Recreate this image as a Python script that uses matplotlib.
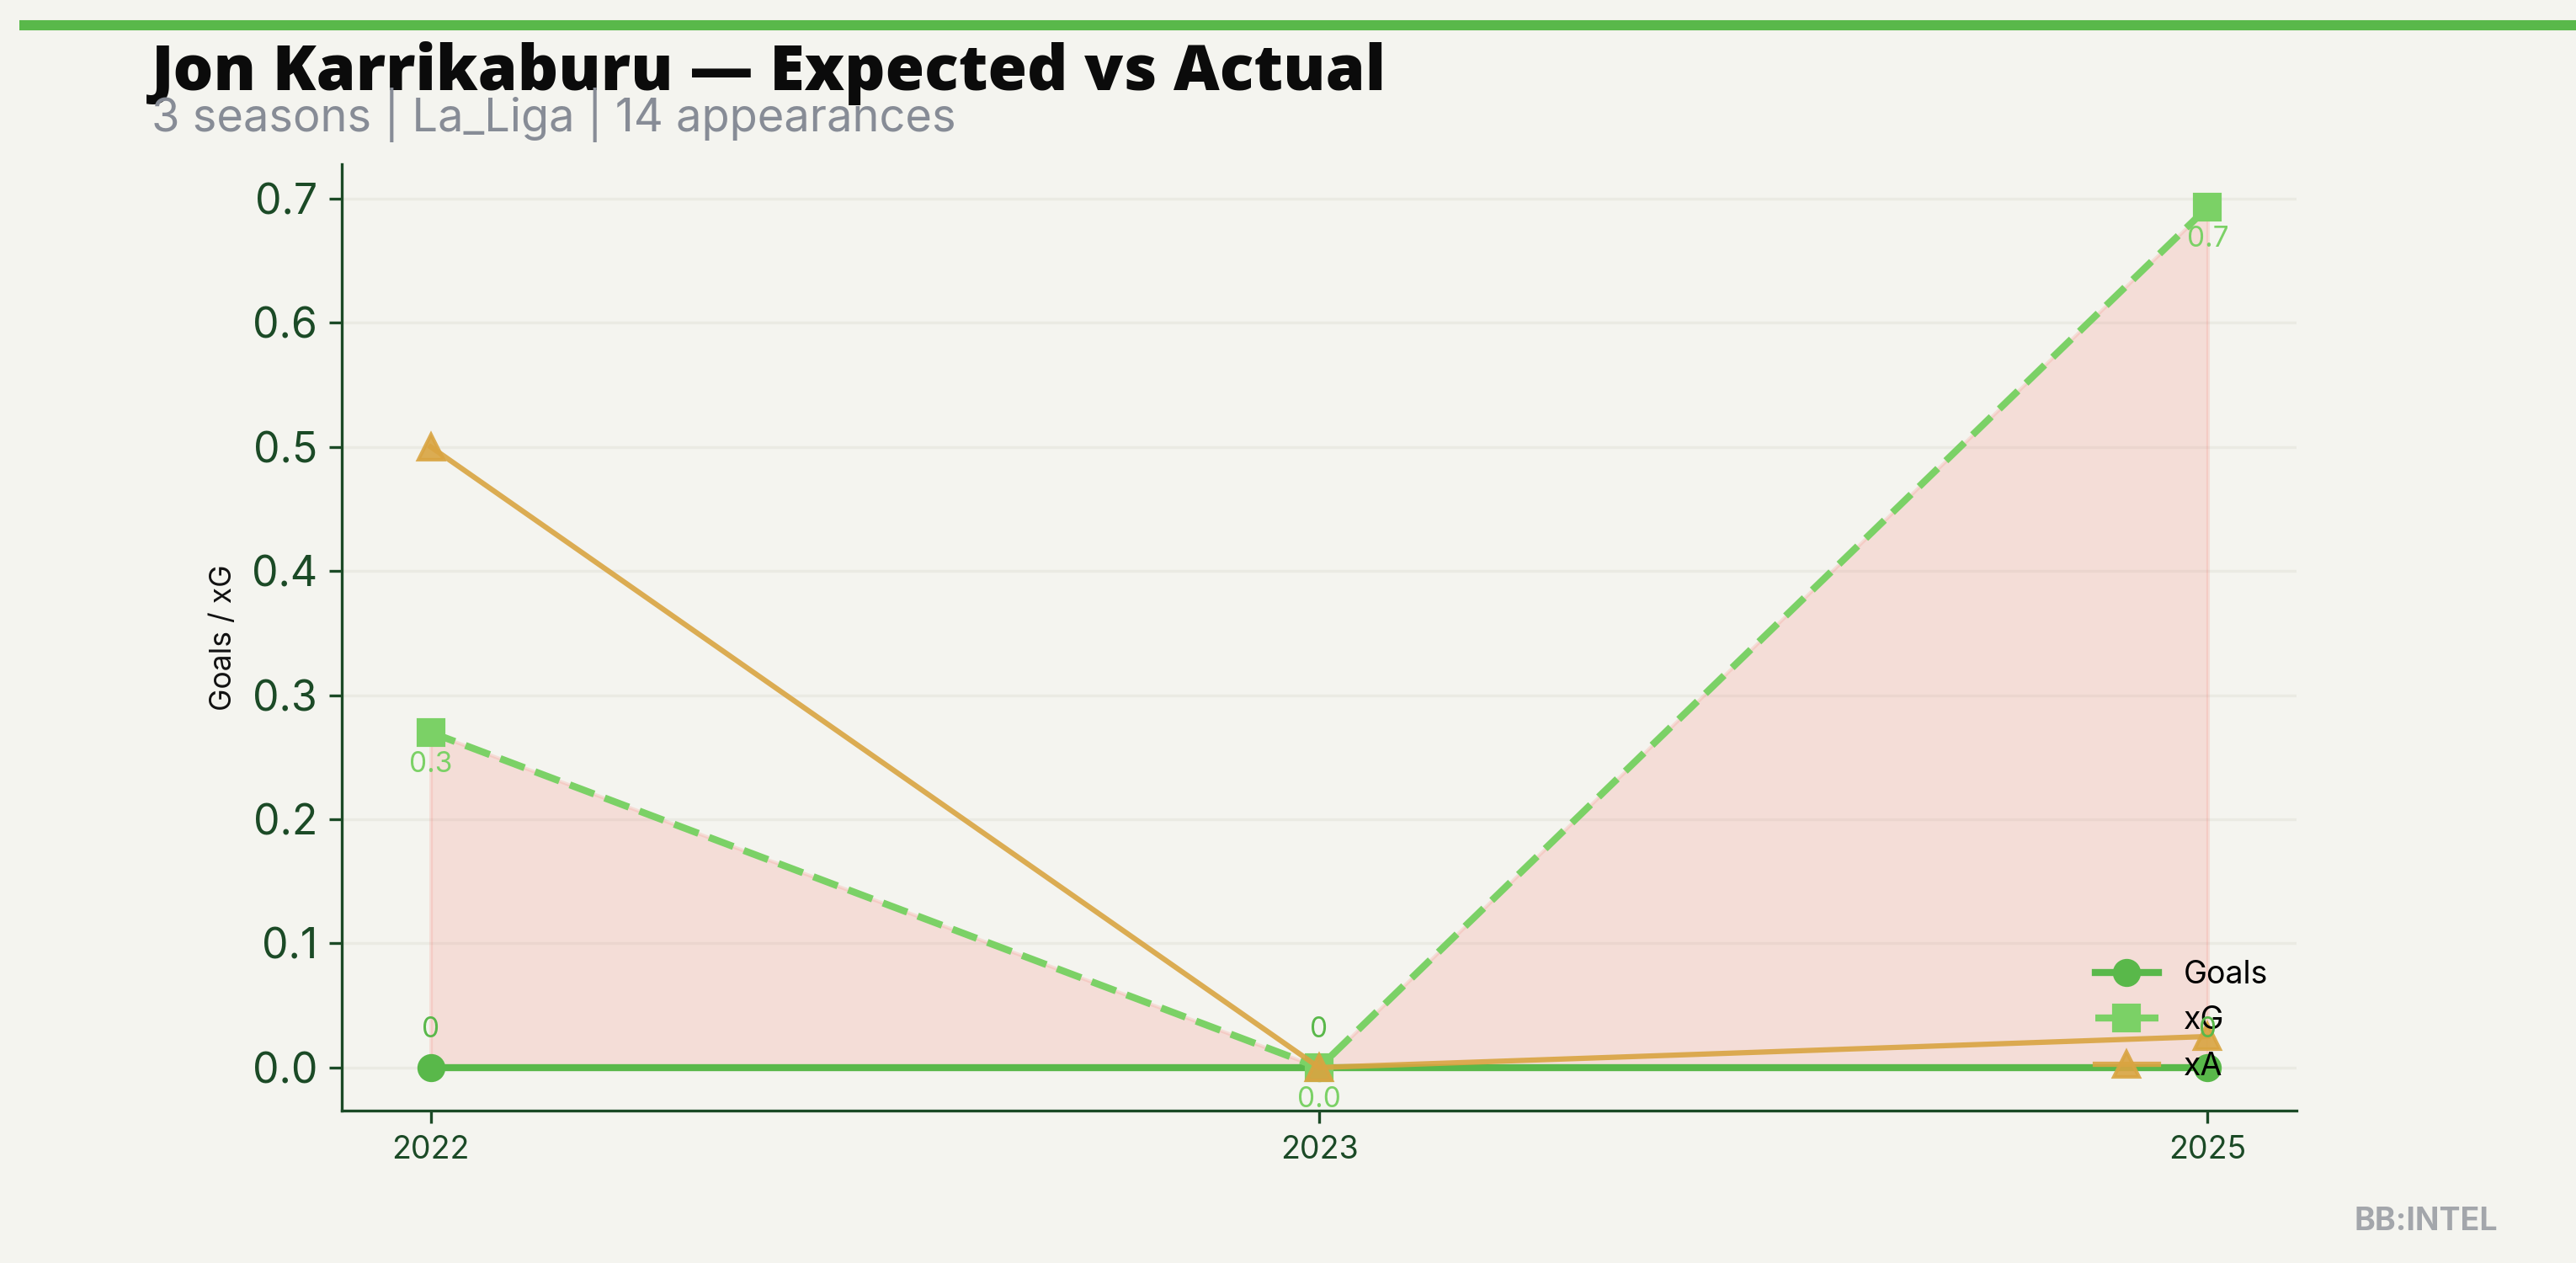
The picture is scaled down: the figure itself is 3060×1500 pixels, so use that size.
import matplotlib
matplotlib.use("Agg")
import matplotlib.pyplot as plt
from matplotlib.lines import Line2D

# ---- data ----
seasons = ["2022", "2023", "2025"]
goals = [0, 0, 0]
xg = [0.27, 0.0, 0.693]
xa = [0.50, 0.0, 0.025]
goal_labels = ["0", "0", "0"]
xg_labels = ["0.3", "0.0", "0.7"]

title = "Jon Karrikaburu — Expected vs Actual"
subtitle = "3 seasons | La_Liga | 14 appearances"

BG = "#f4f4ef"
GREEN = "#59b84a"
LGREEN = "#7bd166"
GOLD = "#d9a441"
DARK = "#1b4a26"
FILL = "#f4847a"

plt.rcParams['font.family'] = ['Inter', 'DejaVu Sans']

fig = plt.figure(figsize=(10.2, 5.0), dpi=300, facecolor=BG)
ax = fig.add_axes([0.1327, 0.1207, 0.8915 - 0.1327, 0.87 - 0.1207])
ax.set_facecolor(BG)

x = list(range(len(seasons)))

ax.fill_between(x, goals, xg, color=FILL, alpha=0.2, linewidth=1.0, zorder=1)

ax.plot(x, goals, color=GREEN, lw=2, marker='o', ms=7, label="Goals", zorder=3)
ax.plot(x, xg, color=LGREEN, lw=2, ls='--', marker='s', ms=7, label="xG", zorder=4)
ax.plot(x, xa, color=GOLD, lw=1.5, marker='^', ms=7, alpha=0.9, label="xA", zorder=5)

for xi, yi, lab in zip(x, goals, goal_labels):
    ax.annotate(lab, (xi, yi), xytext=(0, 10.8), textcoords='offset points',
                ha='center', va='center', color=GREEN, fontsize=8, zorder=6)
for xi, yi, lab in zip(x, xg, xg_labels):
    ax.annotate(lab, (xi, yi), xytext=(0, -9.2), textcoords='offset points',
                ha='center', va='center', color=LGREEN, fontsize=8, zorder=6)

ax.set_xticks(x)
ax.set_xticklabels(seasons)
ax.set_ylabel("Goals / xG", fontsize=8.5, color="#111111")
ax.tick_params(axis='y', labelsize=12, colors=DARK)
ax.tick_params(axis='x', labelsize=9, colors=DARK)
for s in ["top", "right"]:
    ax.spines[s].set_visible(False)
for s in ["left", "bottom"]:
    ax.spines[s].set_color(DARK)
ax.grid(axis='y', color="#eaeae3", lw=0.8)
ax.set_axisbelow(True)

leg = ax.legend(loc='lower right', frameon=False, fontsize=9)

# header
fig.add_artist(Line2D([0.0075, 1.0], [0.98, 0.98], color=GREEN, lw=2.9,
                      transform=fig.transFigure, solid_capstyle='butt'))
fig.text(0.0588, 0.9287, title, fontsize=18.1, fontweight=800, family=['Open Sans', 'DejaVu Sans'],
         color="#0b0b0b", ha='left', va='baseline')
fig.text(0.0588, 0.896, subtitle, fontsize=13, color="#878c96", ha='left', va='baseline')
fig.text(0.9696, 0.026, "BB:INTEL", fontsize=9, fontweight='bold', color="#a3a6ab",
         ha='right', va='baseline')

fig.savefig("out.png", dpi=300, facecolor=BG)
